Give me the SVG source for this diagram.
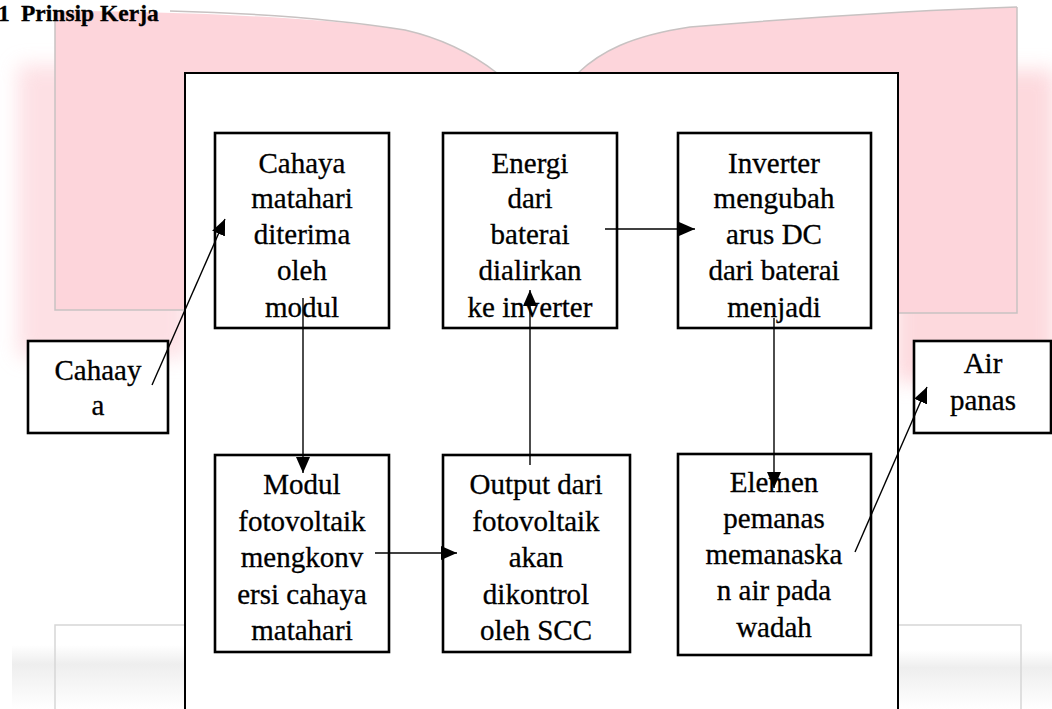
<svg xmlns="http://www.w3.org/2000/svg" width="1052" height="709" viewBox="0 0 1052 709">
<style>
.t{font-family:"Liberation Serif","Times New Roman",serif;font-size:29px;text-anchor:middle;fill:#000;stroke:#000;stroke-width:0.3}
.title{font-family:"Liberation Serif","Times New Roman",serif;font-size:23.5px;font-weight:bold;fill:#000;stroke:#000;stroke-width:0.3}
.box{fill:#fff;stroke:#000;stroke-width:2.6}
.frame{fill:#fff;stroke:#000;stroke-width:2}
.con{fill:none;stroke:#000;stroke-width:1.4;marker-end:url(#ah)}
.pg{fill:#fdd5db}
.edge{fill:none;stroke:#c8c2c2;stroke-width:1.5}
.edge2{fill:none;stroke:#d6d6d6;stroke-width:1.5}
</style>
<defs>
<marker id="ah" viewBox="0 0 16 14" refX="16" refY="7" markerWidth="16" markerHeight="14" markerUnits="userSpaceOnUse" orient="auto">
<path d="M0,0 L16,7 L0,14 Z" fill="#000"/>
</marker>
<filter id="blur" x="-20%" y="-20%" width="140%" height="140%"><feGaussianBlur stdDeviation="10"/></filter>
<linearGradient id="gband" x1="0" y1="0" x2="0" y2="1">
<stop offset="0" stop-color="#ffffff"/>
<stop offset="0.3" stop-color="#eeeeee"/>
<stop offset="1" stop-color="#ffffff"/>
</linearGradient>
</defs>
<rect width="1052" height="709" fill="#fff"/>
<g id="watermark">
<rect x="18" y="65" width="170" height="292" fill="#fdd6dc" opacity="0.75" filter="url(#blur)"/>
<rect x="895" y="70" width="160" height="312" fill="#fdd3d8" opacity="0.85" filter="url(#blur)"/>
<path class="pg" d="M55,11 C180,11 330,18 405,30 C440,38 470,52 497,73 L497,310 L55,310 Z"/>
<path class="edge" d="M170,11 C250,13 330,18 405,30 C440,38 470,52 497,73"/>
<path class="edge" d="M55,15 L55,310 L185,310"/>
<path class="pg" d="M578,73 C600,52 630,36 690,27 C800,18 920,10 1017,7 L1017,313 L578,313 Z"/>
<path class="edge" d="M578,73 C600,52 630,36 690,27 C800,18 920,10 1017,7"/>
<path class="edge" d="M1017,7 L1017,313 L898,313"/>
<rect x="12" y="645" width="173" height="64" fill="url(#gband)"/>
<rect x="898" y="650" width="154" height="59" fill="url(#gband)"/>
<path class="edge2" d="M55,709 L55,625 L185,625"/>
<path class="edge2" d="M898,625 L1021,625 L1021,709"/>
</g>
<g id="title">
<text class="title" y="21"><tspan x="-2">1</tspan><tspan x="21">Prinsip Kerja</tspan></text>
</g>
<g id="frame">
<rect class="frame" x="185" y="73" width="713" height="700"/>
</g>
<g id="n-cahaya-matahari">
<rect class="box" x="215" y="133" width="174" height="195"/>
<text class="t" x="302" y="173">Cahaya</text>
<text class="t" x="302" y="208">matahari</text>
<text class="t" x="302" y="244">diterima</text>
<text class="t" x="302" y="280">oleh</text>
<text class="t" x="302" y="317">modul</text>
</g>
<g id="n-energi">
<rect class="box" x="443" y="133" width="174" height="195"/>
<text class="t" x="530" y="173">Energi</text>
<text class="t" x="530" y="208">dari</text>
<text class="t" x="530" y="244">baterai</text>
<text class="t" x="530" y="280">dialirkan</text>
<text class="t" x="530" y="317">ke inverter</text>
</g>
<g id="n-inverter">
<rect class="box" x="678" y="133" width="193" height="195"/>
<text class="t" x="774" y="173">Inverter</text>
<text class="t" x="774" y="208">mengubah</text>
<text class="t" x="774" y="244">arus DC</text>
<text class="t" x="774" y="280">dari baterai</text>
<text class="t" x="774" y="317">menjadi</text>
</g>
<g id="n-modul">
<rect class="box" x="215" y="455" width="174" height="197"/>
<text class="t" x="302" y="494">Modul</text>
<text class="t" x="302" y="531">fotovoltaik</text>
<text class="t" x="302" y="567">mengkonv</text>
<text class="t" x="302" y="604">ersi cahaya</text>
<text class="t" x="302" y="640">matahari</text>
</g>
<g id="n-output">
<rect class="box" x="443" y="455" width="187" height="197"/>
<text class="t" x="536" y="494">Output dari</text>
<text class="t" x="536" y="531">fotovoltaik</text>
<text class="t" x="536" y="567">akan</text>
<text class="t" x="536" y="604">dikontrol</text>
<text class="t" x="536" y="640">oleh SCC</text>
</g>
<g id="n-elemen">
<rect class="box" x="678" y="454" width="193" height="201"/>
<text class="t" x="774" y="492">Elemen</text>
<text class="t" x="774" y="528">pemanas</text>
<text class="t" x="774" y="564">memanaska</text>
<text class="t" x="774" y="600">n air pada</text>
<text class="t" x="774" y="637">wadah</text>
</g>
<g id="n-cahaay">
<rect class="box" x="28" y="341" width="140" height="92"/>
<text class="t" x="98" y="380">Cahaay</text>
<text class="t" x="98" y="415">a</text>
</g>
<g id="n-air-panas">
<rect class="box" x="914" y="341" width="137" height="92"/>
<text class="t" x="983" y="373">Air</text>
<text class="t" x="983" y="410">panas</text>
</g>
<g id="connectors">
<path class="con" d="M152,385 L225,219"/>
<path class="con" d="M303,298 L303,473"/>
<path class="con" d="M530,465 L530,290"/>
<path class="con" d="M605,229 L695,229"/>
<path class="con" d="M375,553 L457,553"/>
<path class="con" d="M774,318 L774,488"/>
<path class="con" d="M855,552 L927,387"/>
</g>
</svg>
